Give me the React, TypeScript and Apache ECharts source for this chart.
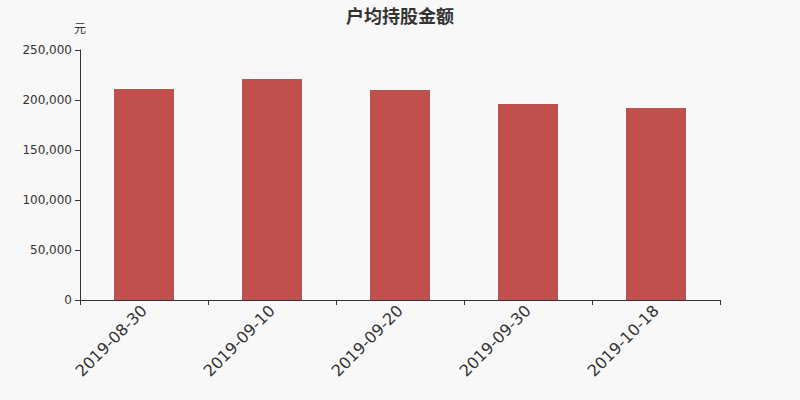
import React, { useEffect, useRef } from "react";
import * as echarts from "echarts";

const categories = ["2019-08-30", "2019-09-10", "2019-09-20", "2019-09-30", "2019-10-18"];
const values = [211000, 221000, 210000, 196000, 192000];
const titleText = "户均持股金额";
const unitName = "元";

const FONT = "'DejaVu Sans', 'Noto Sans CJK SC', sans-serif";

export default function App() {
  const ref = useRef<HTMLDivElement>(null);
  useEffect(() => {
    const chart = echarts.init(ref.current!, null, { renderer: "svg" });
    chart.setOption({
      animation: false,
      backgroundColor: "#f8f8f8",
      textStyle: { fontFamily: FONT },
      title: {
        text: titleText,
        left: "center",
        top: 2,
        textStyle: { fontSize: 18, fontWeight: "bold", color: "#333", fontFamily: FONT },
      },
      grid: { left: 80, right: 80, top: 50, bottom: 100 },
      xAxis: {
        type: "category",
        data: categories,
        axisLine: { lineStyle: { color: "#333" } },
        axisTick: { show: true, alignWithLabel: false },
        axisLabel: { rotate: 45, fontSize: 16, color: "#333", margin: 8, fontFamily: FONT },
      },
      yAxis: {
        type: "value",
        name: unitName,
        nameGap: 15,
        nameTextStyle: { color: "#333", fontSize: 12, align: "center", fontFamily: FONT },
        min: 0,
        max: 250000,
        interval: 50000,
        axisLine: { show: true, lineStyle: { color: "#333" } },
        axisTick: { show: true },
        splitLine: { show: false },
        axisLabel: {
          color: "#333",
          fontSize: 12,
          fontFamily: FONT,
          formatter: (v: number) => v.toLocaleString("en-US"),
        },
      },
      series: [
        {
          type: "bar",
          data: values,
          barWidth: 60,
          itemStyle: { color: "#c0504d" },
        },
      ],
    });
    return () => chart.dispose();
  }, []);
  return <div ref={ref} style={{ width: 800, height: 400, position: "absolute", left: 0, top: 0 }} />;
}
